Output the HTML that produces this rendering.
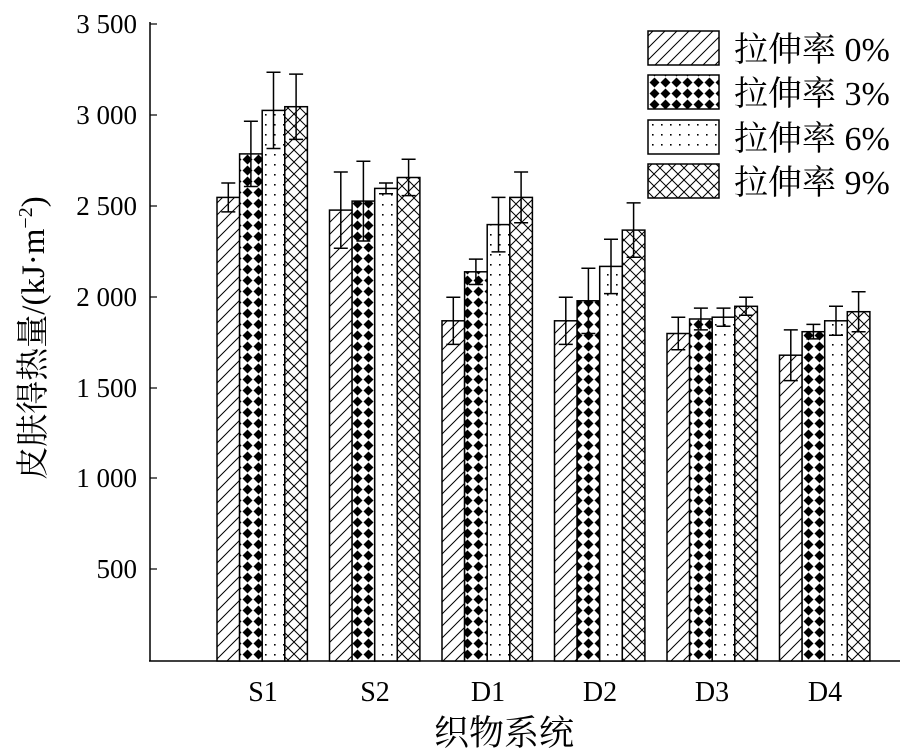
<!DOCTYPE html><html><head><meta charset="utf-8"><style>body{margin:0;background:#fff}svg{display:block}</style></head><body>
<svg width="900" height="755" xmlns="http://www.w3.org/2000/svg" font-family="'Liberation Serif','Noto Serif CJK SC',serif">
<defs>
<pattern id="p0" width="12" height="12" patternUnits="userSpaceOnUse"><rect width="12" height="12" fill="#fff"/><path d="M-3,15 L15,-3 M-3,3 L3,-3 M9,15 L15,9" stroke="#000" stroke-width="1"/></pattern>
<pattern id="p3" width="11" height="11" patternUnits="userSpaceOnUse"><rect width="11" height="11" fill="#fff"/><path d="M5.5,0.5 L10.5,5.5 L5.5,10.5 L0.5,5.5Z" fill="#000"/></pattern>
<pattern id="p6" width="9" height="10" patternUnits="userSpaceOnUse"><rect width="9" height="10" fill="#fff"/><rect x="4" y="4" width="1.6" height="1.6" fill="#000"/></pattern>
<pattern id="p9" width="12" height="12" patternUnits="userSpaceOnUse"><rect width="12" height="12" fill="#fff"/><path d="M0,0 L12,12 M12,0 L0,12" stroke="#000" stroke-width="1"/></pattern>
</defs>
<g stroke="#000" stroke-width="1.5" fill="none">
<line x1="150" y1="22" x2="150" y2="661"/><line x1="149" y1="661" x2="900" y2="661"/>
<g stroke-width="1.2"><line x1="150" y1="24" x2="157" y2="24"/><line x1="150" y1="115" x2="157" y2="115"/><line x1="150" y1="206" x2="157" y2="206"/><line x1="150" y1="297" x2="157" y2="297"/><line x1="150" y1="388" x2="157" y2="388"/><line x1="150" y1="478" x2="157" y2="478"/><line x1="150" y1="569" x2="157" y2="569"/></g>
</g>
<g font-size="27" text-anchor="end" fill="#000">
<text x="137" y="33">3 500</text><text x="137" y="124">3 000</text><text x="137" y="215">2 500</text><text x="137" y="306">2 000</text><text x="137" y="397">1 500</text><text x="137" y="487">1 000</text><text x="137" y="578">500</text>
</g>
<g font-size="28" text-anchor="middle">
<text x="263" y="701">S1</text><text x="375" y="701">S2</text><text x="488" y="701">D1</text><text x="600" y="701">D2</text><text x="712" y="701">D3</text><text x="825" y="701">D4</text>
</g>
<text x="504" y="745" font-size="35" text-anchor="middle">织物系统</text>
<text transform="translate(44,338) rotate(-90)" font-size="33" text-anchor="middle">皮肤得热量/(kJ·m<tspan dy="-12" font-size="20">−2</tspan><tspan dy="12">)</tspan></text>
<g stroke="#000" stroke-width="1.5">
<rect x="217" y="197.4" width="22.6" height="463.6" fill="url(#p0)"/>
<rect x="239.6" y="153.9" width="22.6" height="507.1" fill="url(#p3)"/>
<rect x="262.2" y="110.4" width="22.6" height="550.6" fill="url(#p6)"/>
<rect x="284.8" y="106.7" width="22.6" height="554.3" fill="url(#p9)"/>
<rect x="329.5" y="210.1" width="22.6" height="450.9" fill="url(#p0)"/>
<rect x="352.1" y="201.1" width="22.6" height="459.9" fill="url(#p3)"/>
<rect x="374.7" y="188.4" width="22.6" height="472.6" fill="url(#p6)"/>
<rect x="397.3" y="177.5" width="22.6" height="483.5" fill="url(#p9)"/>
<rect x="442" y="320.8" width="22.6" height="340.2" fill="url(#p0)"/>
<rect x="464.6" y="271.8" width="22.6" height="389.2" fill="url(#p3)"/>
<rect x="487.2" y="224.6" width="22.6" height="436.4" fill="url(#p6)"/>
<rect x="509.8" y="197.4" width="22.6" height="463.6" fill="url(#p9)"/>
<rect x="554.5" y="320.8" width="22.6" height="340.2" fill="url(#p0)"/>
<rect x="577.1" y="300.8" width="22.6" height="360.2" fill="url(#p3)"/>
<rect x="599.7" y="266.4" width="22.6" height="394.6" fill="url(#p6)"/>
<rect x="622.3" y="230.1" width="22.6" height="430.9" fill="url(#p9)"/>
<rect x="667" y="333.5" width="22.6" height="327.5" fill="url(#p0)"/>
<rect x="689.6" y="319" width="22.6" height="342" fill="url(#p3)"/>
<rect x="712.2" y="317.2" width="22.6" height="343.8" fill="url(#p6)"/>
<rect x="734.8" y="306.3" width="22.6" height="354.7" fill="url(#p9)"/>
<rect x="779.5" y="355.2" width="22.6" height="305.8" fill="url(#p0)"/>
<rect x="802.1" y="331.7" width="22.6" height="329.3" fill="url(#p3)"/>
<rect x="824.7" y="320.8" width="22.6" height="340.2" fill="url(#p6)"/>
<rect x="847.3" y="311.7" width="22.6" height="349.3" fill="url(#p9)"/>
</g>
<g stroke="#000" stroke-width="1.5" fill="none">
<path d="M228.3,183V211.9M221.3,183h14M221.3,211.9h14"/>
<path d="M250.9,121.2V186.5M243.9,121.2h14M243.9,186.5h14"/>
<path d="M273.5,72.3V148.5M266.5,72.3h14M266.5,148.5h14"/>
<path d="M296.1,74.1V139.4M289.1,74.1h14M289.1,139.4h14"/>
<path d="M340.8,172V248.2M333.8,172h14M333.8,248.2h14"/>
<path d="M363.4,161.2V241M356.4,161.2h14M356.4,241h14"/>
<path d="M386,183V193.8M379,183h14M379,193.8h14"/>
<path d="M408.6,159.3V195.6M401.6,159.3h14M401.6,195.6h14"/>
<path d="M453.3,297.2V344.4M446.3,297.2h14M446.3,344.4h14"/>
<path d="M475.9,259.1V284.5M468.9,259.1h14M468.9,284.5h14"/>
<path d="M498.5,197.4V251.9M491.5,197.4h14M491.5,251.9h14"/>
<path d="M521.1,172V222.8M514.1,172h14M514.1,222.8h14"/>
<path d="M565.8,297.2V344.4M558.8,297.2h14M558.8,344.4h14"/>
<path d="M588.4,268.2V333.5M581.4,268.2h14M581.4,333.5h14"/>
<path d="M611,239.2V293.6M604,239.2h14M604,293.6h14"/>
<path d="M633.6,202.9V257.3M626.6,202.9h14M626.6,257.3h14"/>
<path d="M678.3,317.2V349.8M671.3,317.2h14M671.3,349.8h14"/>
<path d="M700.9,308.1V329.9M693.9,308.1h14M693.9,329.9h14"/>
<path d="M723.5,308.1V326.2M716.5,308.1h14M716.5,326.2h14"/>
<path d="M746.1,297.2V315.3M739.1,297.2h14M739.1,315.3h14"/>
<path d="M790.8,329.9V380.6M783.8,329.9h14M783.8,380.6h14"/>
<path d="M813.4,324.4V338.9M806.4,324.4h14M806.4,338.9h14"/>
<path d="M836,306.3V335.3M829,306.3h14M829,335.3h14"/>
<path d="M858.6,291.8V331.7M851.6,291.8h14M851.6,331.7h14"/>
</g>
<g stroke="#000" stroke-width="1.5">
<rect x="648" y="31" width="71" height="34" fill="url(#p0)"/>
<rect x="648" y="75" width="71" height="34" fill="url(#p3)"/>
<rect x="648" y="120" width="71" height="34" fill="url(#p6)"/>
<rect x="648" y="164" width="71" height="34" fill="url(#p9)"/>
</g>
<g font-size="34">
<text x="734" y="61">拉伸率 0%</text><text x="734" y="105">拉伸率 3%</text><text x="734" y="150">拉伸率 6%</text><text x="734" y="194">拉伸率 9%</text>
</g>
</svg></body></html>
